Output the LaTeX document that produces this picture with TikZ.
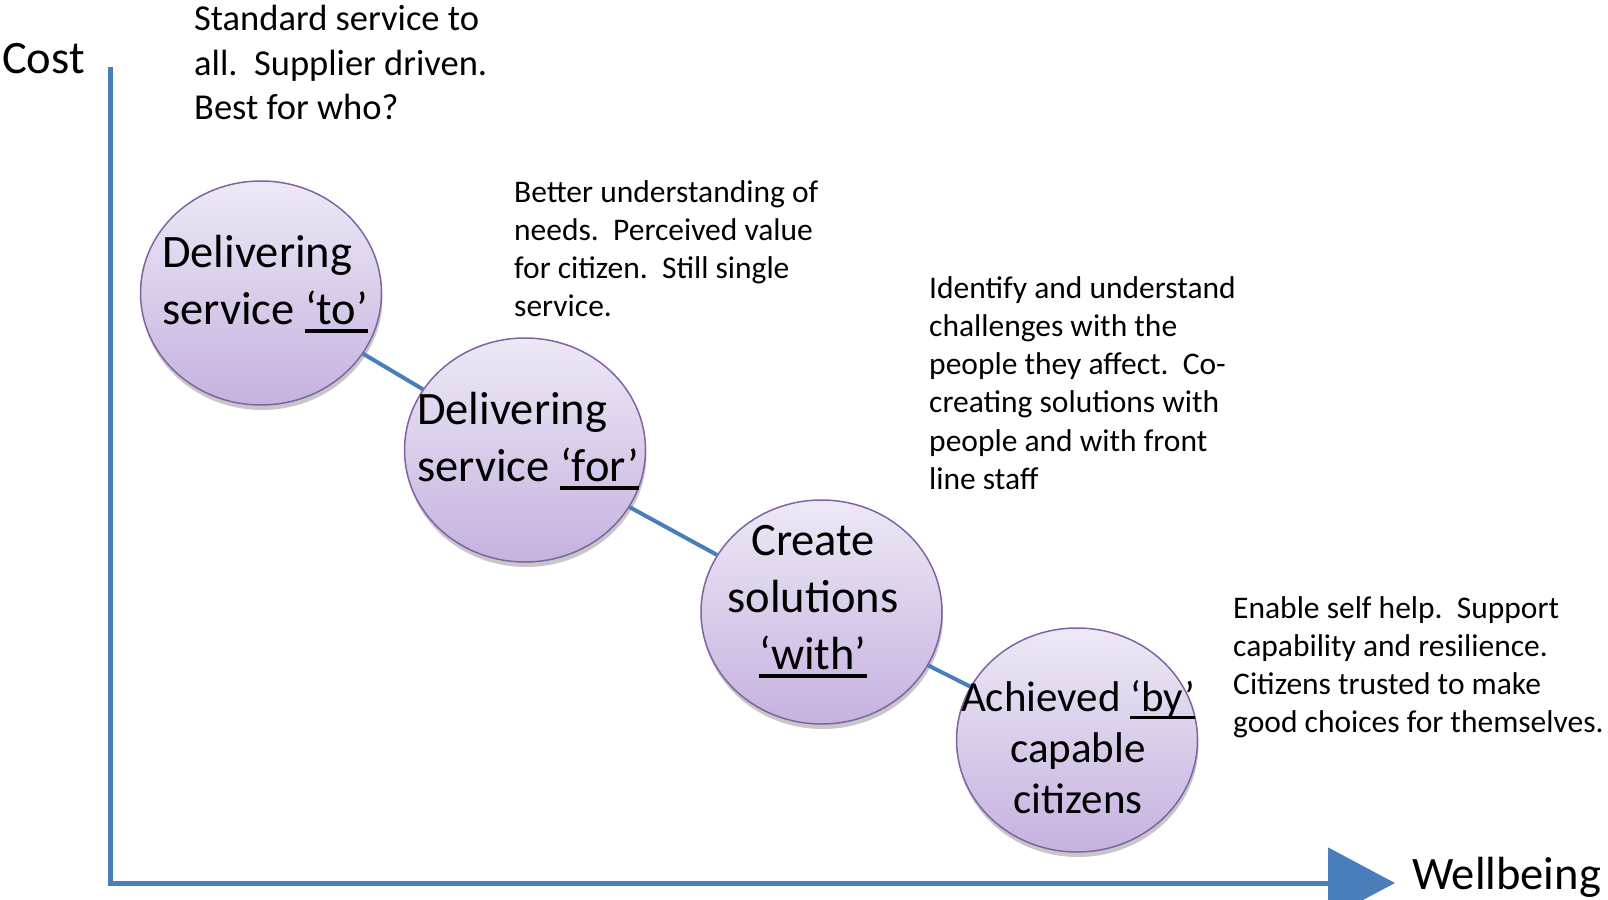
\documentclass[tikz,border=0pt]{standalone}
\usepackage{fontspec}
\setmainfont{Carlito}
\usetikzlibrary{shapes.geometric,arrows.meta,shadows}
\definecolor{axisblue}{HTML}{4A7EBB}
\definecolor{bubbleline}{HTML}{8064A2}
\definecolor{bubbletop}{HTML}{EEE8F6}
\definecolor{bubblebot}{HTML}{C5B2DF}
\newcommand\uln[1]{\setbox0=\hbox{#1}\rlap{\rule[-0.18em]{\wd0}{0.075em}}\box0}
\tikzset{
  bubble/.style={ellipse, draw=bubbleline, line width=1.5pt, minimum width=241pt, minimum height=224pt,
    top color=bubbletop, bottom color=bubblebot,
    drop shadow={shadow xshift=1pt, shadow yshift=-5pt, opacity=0.22, fill=black}},
  bigtext/.style={font=\fontsize{46.5}{57}\selectfont, inner sep=0pt},
  cittext/.style={font=\fontsize{43}{51}\selectfont, inner sep=0pt},
  smalltext/.style={font=\fontsize{31.5}{38.3}\selectfont, align=left, inner sep=0pt, anchor=north west},
  toptext/.style={font=\fontsize{36.5}{44.6}\selectfont, align=left, inner sep=0pt, anchor=north west},
  axisline/.style={draw=axisblue, line width=5pt},
  conn/.style={draw=axisblue, line width=4pt},
}
\begin{document}
\begin{tikzpicture}[x=1pt,y=-1pt]
\useasboundingbox (0,0) rectangle (1608,899);

% axes
\coordinate (ytop) at (110,67);
\coordinate (xend) at (1395,883);
\draw[axisline, -{Triangle[length=67pt,width=70pt]}] (ytop) |- (xend);
\node[bigtext, anchor=base west] (cost) at (2,74) {Cost};
\node[bigtext, anchor=base west] (well) at (1412,889) {Wellbeing};

% bubbles
\node[bubble] (c1) at (261,293) {};
\node[bubble] (c2) at (525,450) {};
\node[bubble] (c3) at (821.5,612) {};
\node[bubble] (c4) at (1077,740) {};

\draw[conn] (c1) -- (c2);
\draw[conn] (c2) -- (c3);
\draw[conn] (c3) -- (c4);

\node[bigtext, align=left, anchor=north west] (t1) at (162,235) {Delivering\\service \uln{‘to’}};
\node[bigtext, align=left, anchor=north west] (t2) at (417,392) {Delivering\\service \uln{‘for’}};
\node[bigtext, align=center, anchor=north] (t3) at (813,525) {Create\\solutions\\\uln{‘with’}};
\node[cittext, align=center, anchor=north] (t4) at (1078,680) {Achieved \uln{‘by’}\\capable\\citizens};

% descriptions
\node[toptext] (d1) at (194,5) {Standard service to\\all.\ \ Supplier driven.\\Best for who?};
\node[smalltext] (d2) at (514,180) {Better understanding of\\needs.\ \ Perceived value\\for citizen.\ \ Still single\\service.};
\node[smalltext] (d3) at (929,276) {Identify and understand\\challenges with the\\people they affect.\ \ Co-\\creating solutions with\\people and with front\\line staff};
\node[smalltext] (d4) at (1233,596) {Enable self help.\ \ Support\\capability and resilience.\\Citizens trusted to make\\good choices for themselves.};
\end{tikzpicture}
\end{document}
